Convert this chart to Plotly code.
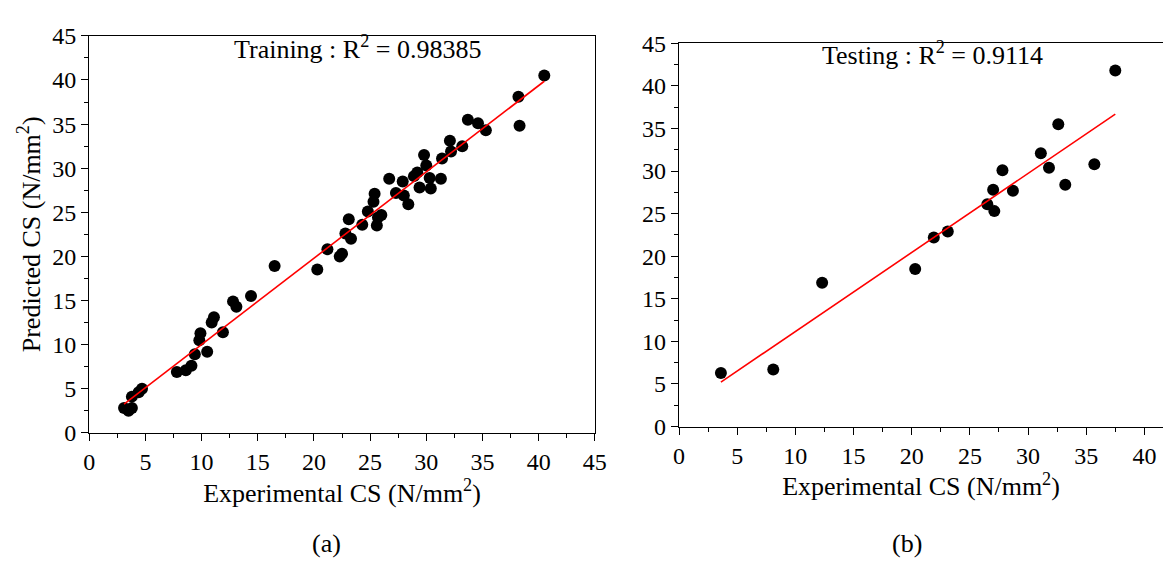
import numpy as np
import plotly.graph_objects as go

# Training data (experimental vs predicted CS)
train_exp = [40.5, 38.2, 38.3, 33.7, 34.6, 35.3, 32.1, 32.2, 33.2, 31.4, 29.8, 30.0, 29.2, 28.9,
             30.3, 31.3, 29.4, 30.4, 26.7, 27.9, 27.3, 28.0, 28.4, 25.4, 25.3, 24.8, 26.0, 25.7,
             23.1, 24.3, 25.6, 22.8, 23.3, 21.2, 22.5, 22.3, 20.3, 16.5, 14.4, 12.8, 13.1, 11.1,
             10.9, 11.9, 9.9, 9.8, 10.5, 9.4, 9.1, 8.6, 7.8, 4.7, 4.4, 3.8, 3.1, 3.5, 3.8]
train_pred = [40.5, 38.1, 34.8, 35.5, 35.1, 34.3, 33.1, 31.9, 32.5, 31.1, 31.5, 30.3, 29.5, 29.1,
              28.9, 28.8, 27.8, 27.7, 28.8, 28.5, 27.2, 26.9, 25.9, 27.1, 26.2, 25.1, 24.7, 24.4,
              24.2, 23.6, 23.5, 22.6, 22.0, 20.8, 20.3, 20.0, 18.5, 18.9, 15.5, 14.9, 14.3, 13.1,
              12.5, 11.4, 11.3, 10.5, 9.2, 8.9, 7.6, 7.1, 6.9, 5.0, 4.6, 4.1, 2.8, 2.5, 2.8]

# Testing data
test_exp = [3.6, 8.1, 12.3, 20.3, 21.9, 23.1, 26.5, 27.0, 27.1, 27.8, 28.7, 31.1, 31.8, 32.6,
            33.2, 35.7, 37.5]
test_pred = [6.3, 6.7, 16.9, 18.5, 22.2, 22.9, 26.1, 27.8, 25.3, 30.1, 27.7, 32.1, 30.4, 35.5,
             28.4, 30.8, 41.8]

train_label = "Training : R<sup>2</sup> = 0.98385"
test_label = "Testing : R<sup>2</sup> = 0.9114"
x_title = "Experimental CS (N/mm<sup>2</sup>)"
y_title = "Predicted CS (N/mm<sup>2</sup>)"
tick_vals = [0, 5, 10, 15, 20, 25, 30, 35, 40, 45]

FONT = "Liberation Serif, Times New Roman, serif"

def fit_line(x, y):
    b, a = np.polyfit(x, y, 1)
    xs = np.array([min(x), max(x)])
    return xs, a + b * xs

fig = go.Figure()

fig.add_trace(go.Scatter(x=train_exp, y=train_pred, mode="markers",
                         marker=dict(color="black", size=12), xaxis="x", yaxis="y",
                         showlegend=False))
lx, ly = fit_line(train_exp, train_pred)
fig.add_trace(go.Scatter(x=lx, y=ly, mode="lines", line=dict(color="#ff0000", width=1.6),
                         xaxis="x", yaxis="y", showlegend=False))

fig.add_trace(go.Scatter(x=test_exp, y=test_pred, mode="markers",
                         marker=dict(color="black", size=12), xaxis="x2", yaxis="y2",
                         showlegend=False))
lx2, ly2 = fit_line(test_exp, test_pred)
fig.add_trace(go.Scatter(x=lx2, y=ly2, mode="lines", line=dict(color="#ff0000", width=1.6),
                         xaxis="x2", yaxis="y2", showlegend=False))

common = dict(showline=True, linecolor="black", linewidth=1.3, ticks="outside",
              ticklen=7, tickwidth=1.2, tickcolor="black", showgrid=False, zeroline=False,
              tickvals=tick_vals, tickfont=dict(family=FONT, size=24, color="black"),
              minor=dict(ticks="outside", ticklen=4, tickwidth=1.1, tickcolor="black",
                         dtick=2.5, showgrid=False))

fig.update_layout(
    width=1175, height=566,
    margin=dict(l=0, r=0, t=0, b=0),
    paper_bgcolor="white", plot_bgcolor="white",
    font=dict(family=FONT, color="black"),
    xaxis=dict(domain=[84.5/1175, 598/1175], range=[0, 45], mirror=True, anchor="y",
               title=dict(text=x_title, font=dict(family=FONT, size=26), standoff=2), **common),
    yaxis=dict(domain=[1-440/566, 1-24/566], range=[0, 45], mirror=True, anchor="x",
               title=dict(text=y_title, font=dict(family=FONT, size=26), standoff=4), **common),
    xaxis2=dict(domain=[683.5/1175, 1.0], range=[0, 41.6], mirror=True, anchor="y2",
                title=dict(text=x_title, font=dict(family=FONT, size=26), standoff=2), **common),
    yaxis2=dict(domain=[1-433.5/566, 1-31.8/566], range=[0, 45], mirror=False, anchor="x2",
                **common),
)

fig.add_annotation(text=train_label, x=0.53, y=0.972, xref="x domain", yref="y domain",
                   showarrow=False, xanchor="center", yanchor="middle",
                   font=dict(family=FONT, size=26, color="black"))
fig.add_annotation(text=test_label, x=0.524, y=0.974, xref="x2 domain", yref="y2 domain",
                   showarrow=False, xanchor="center", yanchor="middle",
                   font=dict(family=FONT, size=26, color="black"))
fig.add_annotation(text="(a)", x=325/1175, y=1-556/566, xref="paper", yref="paper",
                   showarrow=False, xanchor="center", yanchor="middle",
                   font=dict(family=FONT, size=26, color="black"))
fig.add_annotation(text="(b)", x=915/1175, y=1-556/566, xref="paper", yref="paper",
                   showarrow=False, xanchor="center", yanchor="middle",
                   font=dict(family=FONT, size=26, color="black"))

fig.write_html("out.html")
